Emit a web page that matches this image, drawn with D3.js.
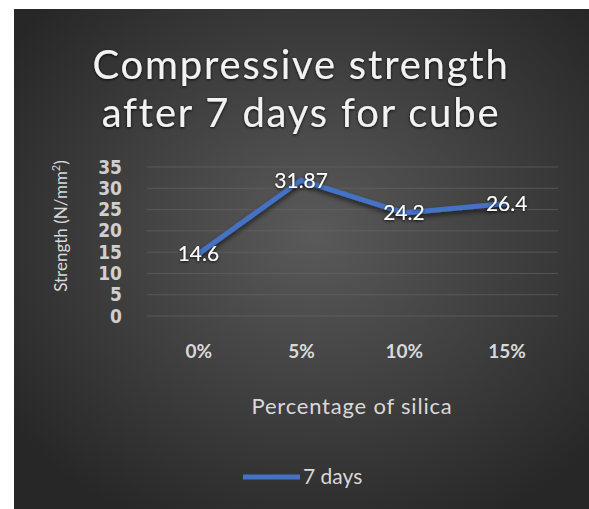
<!DOCTYPE html>
<html>
<head>
<meta charset="utf-8">
<script src="https://cdn.jsdelivr.net/npm/d3@7"></script>
<style>
  html, body { margin: 0; padding: 0; background: #ffffff; }
  svg { display: block; }
</style>
</head>
<body>
<div id="chart"></div>
<script>
// Chart data
const categories = ["0%", "5%", "10%", "15%"];
const strength7Days = [14.6, 31.87, 24.2, 26.4];
const yTicks = [0, 5, 10, 15, 20, 25, 30, 35];
const titleLines = ["Compressive strength", "after 7 days for cube"];
const seriesName = "7 days";

const W = 589, H = 509;
const svg = d3.select("#chart").append("svg").attr("width", W).attr("height", H);
const defs = svg.append("defs");

// Dark radial backdrop
const grad = defs.append("radialGradient").attr("id", "bg")
  .attr("cx", "52%").attr("cy", "45%").attr("r", "65%");
grad.append("stop").attr("offset", "0%").attr("stop-color", "#5a5a5a");
grad.append("stop").attr("offset", "100%").attr("stop-color", "#272727");

const glow = defs.append("filter").attr("id", "glow")
  .attr("x", "-20%").attr("y", "-20%").attr("width", "140%").attr("height", "140%");
glow.append("feDropShadow").attr("dx", 0).attr("dy", 1).attr("stdDeviation", 1.6)
  .attr("flood-color", "#000").attr("flood-opacity", 0.85);

const lineShadow = defs.append("filter").attr("id", "lineShadow")
  .attr("x", "-20%").attr("y", "-50%").attr("width", "140%").attr("height", "200%");
lineShadow.append("feDropShadow").attr("dx", 0).attr("dy", 3).attr("stdDeviation", 2.5)
  .attr("flood-color", "#000").attr("flood-opacity", 0.6);

svg.append("rect").attr("x", 14).attr("y", 9).attr("width", W - 14).attr("height", H - 9)
  .attr("fill", "url(#bg)");

const font = "Lato, 'Open Sans', sans-serif";
const textCol = "#d9d9d9";

// Title
svg.append("g").selectAll("text").data(titleLines).join("text")
  .attr("x", 301).attr("y", (d, i) => 79 + i * 48)
  .attr("text-anchor", "middle")
  .attr("font-family", font).attr("font-size", 40)
  .attr("letter-spacing", 1.8)
  .attr("fill", "#f2f2f2").attr("filter", "url(#glow)")
  .text(d => d);

// Scales
const plot = { left: 147, right: 558, top: 167, bottom: 316 };
const x = d3.scalePoint().domain(categories).range([plot.left, plot.right]).padding(0.5);
const y = d3.scaleLinear().domain([0, 35]).range([plot.bottom, plot.top]);

// Gridlines
svg.append("g").selectAll("line").data(yTicks).join("line")
  .attr("x1", plot.left).attr("x2", plot.right)
  .attr("y1", d => y(d)).attr("y2", d => y(d))
  .attr("stroke", "#6a6a6a").attr("stroke-width", 1).attr("opacity", 0.55);

// Y axis tick labels
const yAxis = d3.axisLeft(y).tickValues(yTicks).tickSize(0).tickPadding(0);
const gy = svg.append("g").attr("transform", "translate(122,0)").call(yAxis);
gy.select(".domain").remove();
gy.selectAll("text").attr("font-family", "'DejaVu Sans Condensed', 'DejaVu Sans', sans-serif")
  .attr("font-size", 19).attr("font-weight", "bold").attr("fill", "#cfcfcf");

// X axis tick labels
const xAxis = d3.axisBottom(x).tickSize(0).tickPadding(0);
const gx = svg.append("g").attr("transform", "translate(0,344)").call(xAxis);
gx.select(".domain").remove();
gx.selectAll("text").attr("font-family", font)
  .attr("font-size", 19).attr("font-weight", "bold").attr("fill", textCol);

// Axis titles
const yTitle = svg.append("text")
  .attr("transform", "translate(67,226) rotate(-90)")
  .attr("text-anchor", "middle")
  .attr("font-family", font).attr("font-size", 17).attr("fill", textCol);
yTitle.append("tspan").text("Strength (N/mm");
yTitle.append("tspan").attr("font-size", 11).attr("dy", -7).text("2");
yTitle.append("tspan").attr("dy", 7).text(")");

svg.append("text").attr("x", 352).attr("y", 414)
  .attr("text-anchor", "middle")
  .attr("font-family", font).attr("font-size", 22).attr("letter-spacing", 0.8)
  .attr("fill", textCol)
  .text("Percentage of silica");

// Series line
const line = d3.line().x((d, i) => x(categories[i])).y(d => y(d));
svg.append("path").datum(strength7Days)
  .attr("d", line)
  .attr("fill", "none").attr("stroke", "#4472c4").attr("stroke-width", 5)
  .attr("stroke-linejoin", "round")
  .attr("filter", "url(#lineShadow)");

// Data labels centred on points
svg.append("g").selectAll("text").data(strength7Days).join("text")
  .attr("x", (d, i) => x(categories[i]))
  .attr("y", d => y(d))
  .attr("dy", "0.35em")
  .attr("text-anchor", "middle")
  .attr("font-family", font).attr("font-size", 21)
  .attr("fill", "#ffffff").attr("filter", "url(#glow)")
  .text(d => d);

// Legend
svg.append("line").attr("x1", 243).attr("x2", 300).attr("y1", 477).attr("y2", 477)
  .attr("stroke", "#4472c4").attr("stroke-width", 5);
svg.append("text").attr("x", 303).attr("y", 477).attr("dy", "0.35em")
  .attr("font-family", font).attr("font-size", 21).attr("fill", textCol)
  .text(seriesName);
</script>
</body>
</html>
